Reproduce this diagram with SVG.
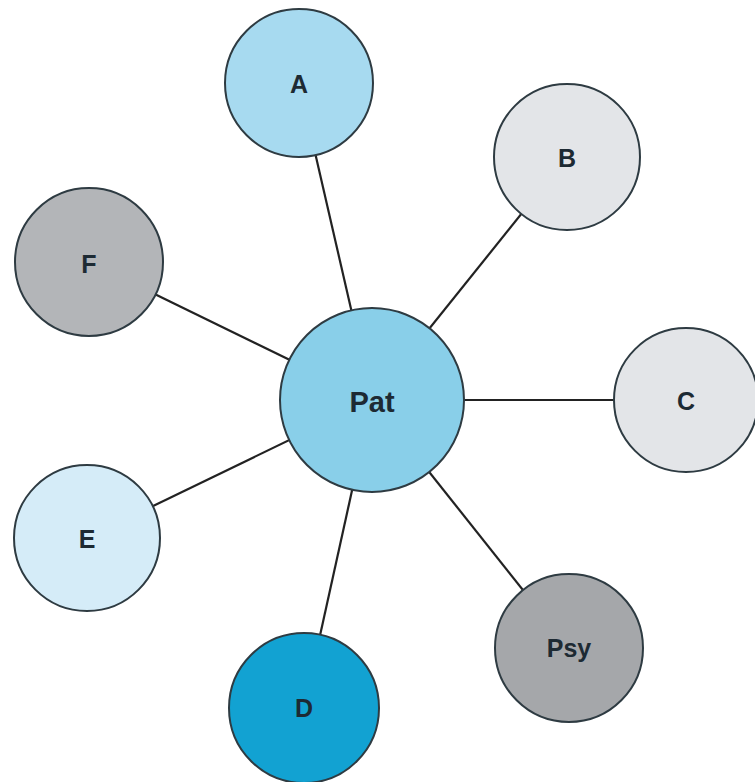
<svg xmlns="http://www.w3.org/2000/svg" width="755" height="782" viewBox="0 0 755 782">
<style>
.n{stroke:#2e3b42;stroke-width:2}
.t{font-family:"Liberation Sans",Arial,sans-serif;font-weight:bold;font-size:25px;fill:#1d2a33;text-anchor:middle;dominant-baseline:central}
.e{stroke:#222;stroke-width:2.2;fill:none}
</style>
<rect width="755" height="782" fill="#fff"/>
<g id="connectors">
<line class="e" x1="372" y1="400" x2="299" y2="83"/>
<line class="e" x1="372" y1="400" x2="567" y2="157"/>
<line class="e" x1="372" y1="400" x2="89" y2="262"/>
<line class="e" x1="372" y1="400" x2="686" y2="400"/>
<line class="e" x1="372" y1="400" x2="87" y2="538"/>
<line class="e" x1="372" y1="400" x2="569" y2="648"/>
<line class="e" x1="372" y1="400" x2="304" y2="708"/>
</g>
<g id="A"><circle class="n" cx="299" cy="83" r="74" fill="#a7daf0"/><text class="t" x="299" y="84">A</text></g>
<g id="B"><circle class="n" cx="567" cy="157" r="73" fill="#e3e5e8"/><text class="t" x="567" y="158">B</text></g>
<g id="F"><circle class="n" cx="89" cy="262" r="74" fill="#b3b5b8"/><text class="t" x="89" y="264">F</text></g>
<g id="Pat"><circle class="n" cx="372" cy="400" r="92" fill="#89cfe9"/><text class="t" x="372" y="402" style="font-size:29px">Pat</text></g>
<g id="C"><circle class="n" cx="686" cy="400" r="72" fill="#e3e5e8"/><text class="t" x="686" y="401">C</text></g>
<g id="E"><circle class="n" cx="87" cy="538" r="73" fill="#d5ecf8"/><text class="t" x="87" y="539">E</text></g>
<g id="Psy"><circle class="n" cx="569" cy="648" r="74" fill="#a5a7aa"/><text class="t" x="569" y="648">Psy</text></g>
<g id="D"><circle class="n" cx="304" cy="708" r="75" fill="#12a2d2"/><text class="t" x="304" y="708">D</text></g>
</svg>
